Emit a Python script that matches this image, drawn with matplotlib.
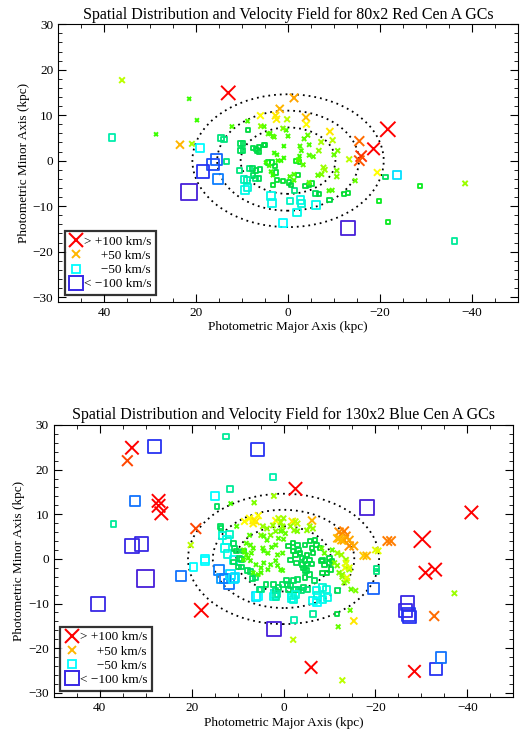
import numpy as np
import matplotlib
matplotlib.use("Agg")
from matplotlib import pyplot as plt
from matplotlib.colors import LinearSegmentedColormap, Normalize
from matplotlib.patches import Ellipse
from matplotlib.lines import Line2D

plt.rcParams['font.family'] = ['Liberation Serif', 'DejaVu Serif']

# ---- data: red GCs (x kpc, y kpc, velocity km/s) ----
red_x = [36.1, 21.5, 19.8, 28.7, 38.3, 23.5, 20.9, 19.1, 13.0, -1.3, 1.8, 6.0, 2.7, 2.5, 0.2, -3.9, -4.0,
         12.2, 8.8, 5.9, 8.7, -9.1, -7.2, -9.7, -15.5, -18.6, -21.7, -15.9, -15.5, -13.3, -10.8, -19.4, -21.2, -23.7,
         15.5, 16.3, 18.5, 15.2, 21.5,
         13.3, 10.6, 9.6, 9.3, 8.8, 8.4, 7.0, 3.7, 3.5, 1.1, -0.4, -1.4, -2.0, -2.7, -3.0, -6.1, -5.9, -3.8, -4.6,
         -9.0, -8.9, -12.2, -14.6, -10.6, -10.6, -7.7, -8.0, -7.3, -19.8, -21.8, -28.7, -38.5, -36.2, -13.0,
         5.2, 3.3, 0.4, 13.9, 9.8, 9.8, 7.0, 6.3, 5.0, -2.4, -3.3, -6.5, -9.6, -6.7, -13.0,
         -4.6, -5.2, -0.2, -0.7, -2.2, -0.4, -1.3, 7.8, 7.6, 6.3, 7.0, 6.1, 8.9,
         4.8, 4.1, 3.7, 3.3, 1.5, 0.9, 3.3, 2.4, 1.1,
         3.0, 4.3, 0.9, 0.0, -3.5, -4.3, -2.6, -2.9, -4.6, -5.5, -2.5, -1.7, -2.5, 3.0, 2.4, 2.2,
         7.6, 6.7, 5.2, 6.3, 10.4, 10.4, 14.6, 3.9, 1.1, -4.6, -6.7, -10.0,
         3.5, 2.8, 4.3, 2.6, -1.3, -2.2]
red_y = [17.7, 13.6, 8.9, 5.8, 5.1, 3.5, 3.7, 2.8, 14.9, 13.8, 11.4, 9.9, 9.9, 9.1, 9.1, 9.5, 8.0,
         7.5, 8.7, 7.6, 6.8, 6.4, 4.1, 4.5, 4.3, 2.6, 6.9, 1.0, 0.0, 0.3, 2.2, -2.6, -3.6, -3.1,
         0.3, -0.8, -2.4, -4.1, -6.9,
         -0.2, -2.2, -4.1, -6.5, -5.9, -1.7, -3.9, -7.8, -9.3, -13.6, -8.9, -6.5, -11.4, -8.7, -9.5, -9.7, -7.3, -5.5, -4.8,
         -8.6, -6.6, -7.3, -4.4, -2.2, -3.5, -1.5, -2.0, -3.0, -8.9, -13.4, -5.6, -5.0, -17.7, -14.8,
         7.5, 5.4, 6.7, 4.7, 3.7, 2.2, 2.6, 1.9, 3.5, 0.0, -0.9, -3.2, -6.5, -7.3, -7.1,
         -5.4, -5.0, -4.8, -5.4, -3.2, -3.5, -4.3, -1.7, -3.2, -3.9, -2.2, -1.9, -4.3,
         -0.4, -1.1, -2.4, -3.2, 0.0, 0.6, -5.4, -4.3, -4.5,
         5.2, 5.9, 3.2, 5.4, 4.8, 5.6, 3.2, 2.2, 1.2, 0.9, 1.0, 0.0, -0.3, 1.7, 1.3, 0.0,
         2.8, 2.2, 3.5, 3.0, 3.7, 2.2, 5.0, 6.0, 7.1, 3.5, 2.2, 1.3,
         -0.4, -1.1, -0.4, -2.6, -3.0, 0.2]
red_v = [25, 5, 5, 5, -30, 50, 22, -50, 120, 55, 50, 35, 40, 38, 25, 48, 35,
         8, 8, 18, -10, 40, 22, 25, 70, 100, 130, 85, 75, 25, 15, 35, -15, -55,
         -80, -90, -100, -70, -140,
         -20, -20, -35, -45, -40, -20, -20, -45, -45, -50, -35, -20, -45, -45, -40, -45, -15, -10, 10,
         -10, 8, -8, 12, 15, 15, 20, 20, 15, -5, -5, -5, 20, -25, -120,
         10, 8, 8, -20, -15, -15, -12, -10, -10, 8, 10, 12, 10, -10, -8,
         -8, -8, -8, -10, -8, 8, 8, -15, -15, -15, -12, -12, -30,
         5, 5, 5, 5, 5, 5, -8, -8, -8,
         10, 10, 5, 8, 10, 12, 8, 8, 10, 10, 5, -5, -5, 5, 5, 5,
         -12, -12, -10, -10, -15, -15, -20, 8, 15, 8, 18, 12,
         -8, -8, -8, -8, 8, 8]

# ---- data: blue GCs ----
blue_x = [33.0, 34.0, 28.1, 12.6, 5.7, 2.3, 11.7, 14.9, 14.5, 32.3, 37.0, 27.2, 27.2, 26.6, -2.6, 2.1, 11.5, 6.4,
          -18.1, -40.9, -30.2, -22.6, -12.1, -11.7, -13.2, -14.3, -17.4, -20.0, -6.2, -1.9, 19.1, 20.2, 33.0, 30.9,
          6.6, 6.0, 8.5, 1.7,
          19.6, 17.2, 17.0, 30.0, 22.3, 40.4, 14.0, 13.4, 11.9, 11.5, 10.6, 17.9, 6.0, 2.1, 2.1, 1.9, -1.7, -1.9,
          -2.3, -6.4, -6.4, -7.4, -8.5, -8.5, -2.1, -6.0, -12.8, -11.9, -11.7, -14.5, -15.3, -14.7, -13.8, -12.8,
          -13.4, -11.7, -20.2, -20.2, -19.6, -30.9, -33.0, -37.2, -27.0, -26.6, -27.2, -27.4, -32.8, -28.5, -33.2, -34.3,
          13.8, 13.6, 10.2, 6.4, 6.6, 7.4, 5.5, 13.2, 11.7, 12.3, 12.8, 12.1, 10.9, 10.6, 10.2, 10.9, 9.1, 8.7,
          8.1, 7.2, 6.6, 7.0, 8.1, 8.7, 4.5, 3.6, 2.3, 1.1, 0.6, 2.8, 4.9, 1.7, 0.2, 4.3, 3.6, 1.7, 4.5, 3.4, 1.3,
          0.2, 1.1, 0.0,
          -2.6, -3.0, 0.0, 0.2, -1.5, -2.3, -5.1, -5.7, -6.4, -13.2, -13.6, -14.3, -12.1, -12.6, -15.3, -18.1,
          -20.6, -23.4, -12.6, -10.6, -8.3, -8.9,
          -1.1, -2.1, -3.0, -3.2, -3.6, -2.6, -4.7, -5.7, -6.2, -6.8, -7.2, -7.9, -5.1, -4.0, -1.5, -2.1, -6.4,
          -8.5, -10.0, -10.6, -0.4, 0.6, -3.0, -13.6,
          12.8, 10.9, 10.9, 9.1, 7.2, 6.2, 4.9, 3.8, 2.1, 1.7, 1.1, 1.3, 5.5, 1.7,
          8.7, 6.6, 5.5, 4.9, 3.4, 2.8, 1.7, 1.3, 0.2,
          -2.8, -5.1, -6.2, -8.3, -8.9, -10.0, -4.3, -5.1, -5.7, -0.9, -1.5, -2.1, -3.0, -1.1, -2.6, -3.2, -4.3,
          -4.0, -5.3, -4.7, -8.5, -9.4, -10.4,
          -7.2, -7.2, -9.4, -9.6, -2.1, -2.6, -11.7,
          -11.1, -11.7, -12.1, -12.8, -13.2, -14.3, -15.7, -13.6, -14.3, -13.8,
          8.5, 7.7, 7.2, 6.0, 4.9, 4.3, 4.3, 2.6, 0.6,
          9.6, 9.8, 7.9, 6.8, 5.3, 0.2, -0.6, -4.7, -4.0, -4.7, -5.7, -6.8, 7.4]
blue_y = [24.9, 22.0, 25.2, 27.4, 24.5, 18.3, 15.7, 14.1, 11.7, 13.0, 7.9, 13.0, 11.9, 10.2, 15.7, 14.1, 12.4, 12.6,
          11.5, 10.4, 4.4, 4.0, 6.0, 4.6, 4.2, 2.9, 0.7, 2.0, 8.6, 8.4, 6.8, 3.1, 2.9, 3.3,
          8.6, 8.4, 8.4, 8.6,
          -1.8, 0.0, -0.4, -4.4, -3.8, -10.1, -2.4, -4.4, -5.7, -3.5, -4.2, -11.5, -8.4, -15.7, -8.4, -7.9, -8.8, -8.2,
          -13.7, -12.4, -9.3, -8.2, -9.1, -6.4, -18.1, -24.3, -27.2, -15.2, -12.4, -11.5, -13.9, -6.8, -4.9, -4.0,
          -2.0, 1.3, -2.2, -2.9, -6.6, -3.1, -2.4, -7.7, -9.9, -11.5, -12.4, -13.0, -12.8, -25.2, -24.7, -22.1,
          7.3, 6.8, 7.3, 8.8, 7.9, 9.1, 9.7, 5.3, 5.5, 4.2, 2.4, 1.1, 3.5, 2.4, 1.8, -0.2, -0.2, 1.8,
          3.5, 3.1, 2.4, 1.3, 0.9, 2.0, 7.3, 6.8, 7.5, 9.1, 8.2, 5.3, 5.3, 6.2, 6.4, 5.1, 4.2, 3.1, 2.4, 1.3, 0.9,
          1.3, 4.6, 4.4,
          8.4, 7.9, 9.1, 7.3, 7.3, 6.4, 6.4, 7.3, 6.8, 6.2, 5.1, 4.2, 4.6, 4.2, 2.9, 0.7,
          1.8, 4.0, 0.9, 2.0, 2.4, 1.3,
          2.9, 3.5, 3.1, 2.0, 1.3, 0.9, 3.1, 4.0, 2.4, 4.2, 3.1, 2.4, 0.9, 0.2, -0.2, 1.8, 1.3,
          -0.2, 0.2, -0.4, 5.7, 6.2, 6.2, -0.2,
          -4.4, -4.4, -0.7, -1.8, -2.9, -4.2, -6.8, -5.7, -5.7, -7.1, -6.4, -7.9, -8.4, -8.4,
          -0.2, -3.1, -3.5, -3.1, -2.4, -1.3, -0.4, -1.5, -2.6,
          -0.9, -1.1, -1.1, -0.4, -1.3, -0.9, -2.0, -2.6, -3.5, -5.7, -6.0, -4.9, -4.6, -6.8, -6.8, -6.8, -6.4,
          -7.1, -6.8, -4.2, -3.1, -3.1, -2.4,
          -7.1, -9.7, -6.8, -8.6, -9.1, -7.9, -7.1,
          -0.9, -1.5, -3.1, -3.5, -5.3, -2.4, -7.1, -0.9, -2.0, -4.2,
          1.5, 0.2, -0.4, -1.3, -2.0, -0.9, 1.8, 2.6, -2.4,
          0.0, -1.8, -2.6, -4.4, -6.8, -5.7, -4.9, -2.6, -1.3, -0.4, -0.2, -4.9, 5.3]
blue_v = [110, 80, -100, -25, -100, -30, -25, -50, -15, -75, -25, 110, 110, 110, 110, 20, 8, 15,
          -120, 110, 150, 65, 60, 50, 55, 60, 45, 30, 50, 40, 80, 25, -110, -110,
          40, 40, 35, 35,
          -50, -50, -50, -150, -75, -110, -70, -65, -75, -55, -55, 120, -55, -120, -45, -45, -45, -45,
          -30, -25, -45, -40, -45, -40, 25, 100, 25, 12, -10, 12, 40, 12, 20, 20,
          30, 20, -20, -20, -80, 110, 110, 20, -110, -110, -100, -100, 70, 100, -100, -75,
          -15, -15, 10, 40, 38, 35, 35, -40, -35, -45, -45, -40, -15, -15, -12, -45, -15, -12,
          10, 10, 10, 10, 10, 10, 20, 18, 20, 25, 22, 15, 15, 15, 15, 10, 10, 10, 10, 10, 10,
          10, 10, 10,
          25, 25, 20, 18, 18, 18, 18, 20, 20, 65, 60, 55, 50, 50, 55, 50,
          30, 65, 20, 12, 12, 12,
          -10, -10, -12, -12, -10, -10, -12, -10, -10, -10, -10, -10, -10, -12, -12, -10, -10,
          -12, -10, -10, 12, 12, 15, 20,
          -70, -55, -15, -15, -15, -18, -20, -15, -15, -20, -15, -25, -50, -30,
          8, 8, 8, 8, 8, 8, 8, 8, 8,
          -12, -12, -12, -10, -10, -10, -12, -12, -12, -15, -15, -15, -15, -15, -18, -18, -15,
          -18, -18, -12, -10, -10, -10,
          -45, -50, -40, -45, -40, -40, -15,
          15, 15, 15, 18, 18, 18, 15, 30, 30, 30,
          8, 8, 8, 8, 8, 8, 8, 8, 8,
          -15, -15, -15, -15, -20, -15, -15, -12, -12, -12, -12, -15, 10]

# dotted isophote ellipses (semi-major, semi-minor in kpc)
ell_a = [10.3, 15.4, 20.8]
ell_b = [7.3, 11.0, 14.6]

vel_nodes = [-120, -100, -70, -50, -25, -10, 0, 20, 35, 50, 75, 100, 120]
vel_cols = [(0.28, 0.12, 0.85), (0.15, 0.2, 0.95), (0.05, 0.5, 1.0), (0.0, 1.0, 1.0), (0.0, 0.92, 0.6),
            (0.0, 0.85, 0.25), (0.1, 1.0, 0.0), (0.6, 1.0, 0.0), (1.0, 1.0, 0.0), (1.0, 0.72, 0.0),
            (1.0, 0.35, 0.0), (1.0, 0.0, 0.0), (1.0, 0.0, 0.0)]
norm = Normalize(-120, 120)
cmap = LinearSegmentedColormap.from_list(
    "vel", [(norm(v), c) for v, c in zip(vel_nodes, vel_cols)])


def msize(v):
    return 2.5 + np.abs(v) * 0.065


def draw_panel(ax, xs, ys, vs, title):
    xs, ys, vs = np.array(xs), np.array(ys), np.array(vs)
    for a, b in zip(ell_a, ell_b):
        ax.add_patch(Ellipse((0, 0), 2 * a, 2 * b, fill=False, color="k",
                             linestyle=(0, (1, 2.2)), linewidth=1.3))
    cols = cmap(norm(np.clip(vs, -120, 120)))
    pos = vs >= 0
    neg = ~pos
    ax.scatter(xs[neg], ys[neg], s=msize(vs[neg]) ** 2, marker="s", facecolors="none",
               edgecolors=cols[neg], linewidths=1.3, zorder=3)
    ax.scatter(xs[pos], ys[pos], s=msize(vs[pos]) ** 2, marker="x", c=cols[pos],
               linewidths=1.4, zorder=3)
    ax.set_xlim(50, -50)
    ax.set_ylim(-31, 30)
    ax.set_xticks([40, 20, 0, -20, -40])
    ax.set_xticklabels(["40", "20", "0", "\u221220", "\u221240"])
    ax.set_yticks([-30, -20, -10, 0, 10, 20, 30])
    ax.set_yticklabels(["\u221230", "\u221220", "\u221210", "0", "10", "20", "30"])
    ax.set_xticks(np.arange(-50, 51, 5), minor=True)
    ax.set_yticks(np.arange(-30, 31, 2), minor=True)
    ax.tick_params(which="both", direction="in", top=True, right=True, labelsize=9.5)
    ax.tick_params(which="major", length=6)
    ax.tick_params(which="minor", length=3)
    ax.set_xlabel("Photometric Major Axis (kpc)", fontsize=9.5, labelpad=2)
    ax.set_ylabel("Photometric Minor Axis (kpc)", fontsize=9.5, labelpad=2)
    ax.set_title(title, fontsize=11.5, pad=4)
    handles = [
        Line2D([], [], marker="x", color=cmap(norm(110)), linestyle="none", markersize=msize(110), mew=1.5),
        Line2D([], [], marker="x", color=cmap(norm(50)), linestyle="none", markersize=msize(50), mew=1.4),
        Line2D([], [], marker="s", color=cmap(norm(-50)), mfc="none", linestyle="none", markersize=msize(50), mew=1.3),
        Line2D([], [], marker="s", color=cmap(norm(-110)), mfc="none", linestyle="none", markersize=msize(110), mew=1.4),
    ]
    labels = ["> +100 km/s", "     +50 km/s", "     \u221250 km/s", "< \u2212100 km/s"]
    leg = ax.legend(handles, labels, loc="lower left", fontsize=9.5, frameon=True, fancybox=False,
                    handlelength=1.0, handletextpad=0.1, borderpad=0.35, labelspacing=0.15,
                    borderaxespad=0.5)
    leg.get_frame().set_edgecolor("k")
    leg.get_frame().set_linewidth(1.6)


fig = plt.figure(figsize=(5.28, 7.34), dpi=100)
ax1 = fig.add_axes([0.110, 0.589, 0.871, 0.378])
ax2 = fig.add_axes([0.102, 0.050, 0.870, 0.371])
draw_panel(ax1, red_x, red_y, red_v, "Spatial Distribution and Velocity Field for 80x2 Red Cen A GCs")
draw_panel(ax2, blue_x, blue_y, blue_v, "Spatial Distribution and Velocity Field for 130x2 Blue Cen A GCs")

fig.savefig("out.png", dpi=100)
